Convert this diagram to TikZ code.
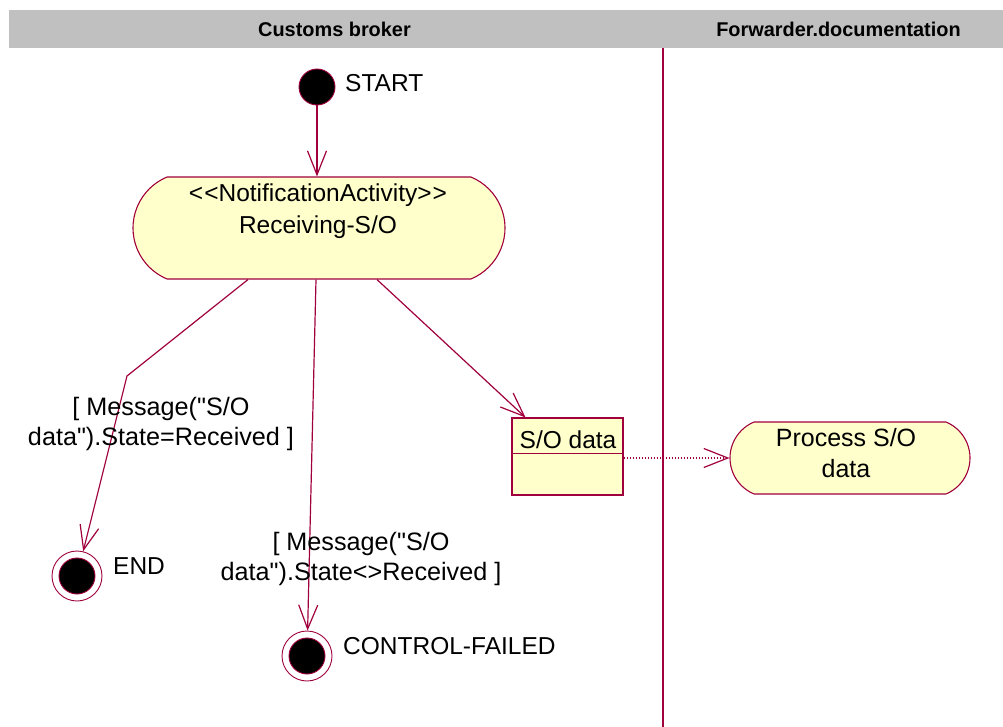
\documentclass[tikz,border=0pt]{standalone}
\usepackage{fontspec}
\setmainfont{Liberation Sans}[Ligatures=TeXOff]
\usetikzlibrary{arrows.meta,shapes.misc,calc}
\definecolor{rosered}{HTML}{A0003C}
\definecolor{actfill}{HTML}{FFFFCC}
\definecolor{lanegray}{HTML}{C0C0C0}

\tikzset{
  txt/.style={font=\fontsize{24.5}{30}\selectfont, inner sep=0pt},
  guard/.style={font=\fontsize{25.2}{30}\selectfont, inner sep=0pt, align=center},
  lanehead/.style={font=\fontsize{19.9}{22}\selectfont\bfseries, inner sep=0pt},
  activity/.style={rounded rectangle, rounded rectangle arc length=135,
    draw=rosered, fill=actfill, line width=1.1pt, inner sep=0pt},
  objbox/.style={rectangle, draw=rosered, fill=actfill, line width=1.1pt, inner sep=0pt},
  initial/.style={circle, draw=rosered, fill=black, line width=0.9pt,
    minimum size=36pt, inner sep=0pt},
  final/.style={circle, draw=rosered, fill=white, line width=0.9pt,
    minimum size=50pt, inner sep=0pt,
    path picture={\filldraw[fill=black, draw=rosered, line width=0.9pt]
      (path picture bounding box.center) circle (18pt);}},
  flow/.style={draw=rosered, line width=1.2pt,
    -{Straight Barb[length=24pt, width=19pt, line width=1.2pt]}},
  objflow/.style={flow, dash pattern=on 1.5pt off 1.5pt},
}

\begin{document}
\begin{tikzpicture}[x=1pt, y=-1pt]
\useasboundingbox (0,0) rectangle (1003,727);

% swimlane headers and divider
\fill[lanegray] (9,10) rectangle (1003,48);
\node[lanehead] (laneA) at (334.5,29) {Customs broker};
\node[lanehead] (laneB) at (838.5,29) {Forwarder.documentation};
\draw[rosered, line width=1.6pt] (663,48) -- (663,727);

% states and activities
\node[initial] (start) at (317,87) {};
\node[txt, anchor=west] (startlbl) at (345,83.3) {START};

\node[activity, minimum width=372pt, minimum height=102pt] (recv) at (319,228) {};
\node[txt, align=center, font=\fontsize{24.5}{32}\selectfont] (recvtxt) at (318,210.8)
  {<\kern1pt<NotificationActivity>\kern1pt>\\Receiving-S/O};

\node[objbox, minimum width=111pt, minimum height=77pt] (sodata) at (567.5,456.5) {};
\draw[rosered, line width=1.1pt] ($(sodata.north west)+(0,36)$) -- ($(sodata.north east)+(0,36)$);
\node[txt] (sodatatxt) at (568,440) {S/O data};

\node[activity, minimum width=240pt, minimum height=72pt] (proc) at (850,458) {};
\node[txt, align=center, font=\fontsize{25}{31}\selectfont] (proctxt) at (846,452.6)
  {Process S/O\\data};

\node[final] (endst) at (77,576) {};
\node[txt, anchor=west] (endlbl) at (113,566) {END};

\node[final] (cfail) at (307,656) {};
\node[txt, anchor=west] (cfaillbl) at (343,645.7) {CONTROL-FAILED};

% transitions
\coordinate (bend) at (127,376);
\draw[flow] (start) -- (start |- recv.north);
\draw[flow] ($(recv.south)+(-71,0)$) -- (bend) -- (endst);
\draw[flow] ($(recv.south)+(-3,0)$) -- (cfail);
\draw[flow] ($(recv.south)+(58,0)$) -- (sodata);
\draw[objflow] (sodata.east |- proc.west) -- (proc.west);

% guard labels
\node[guard] (guardok) at (161,424)
  {[ Message("S/O\\data").State=Received ]};
\node[guard] (guardfail) at (361,558.5)
  {[ Message("S/O\\data").State<>Received ]};
\end{tikzpicture}
\end{document}
